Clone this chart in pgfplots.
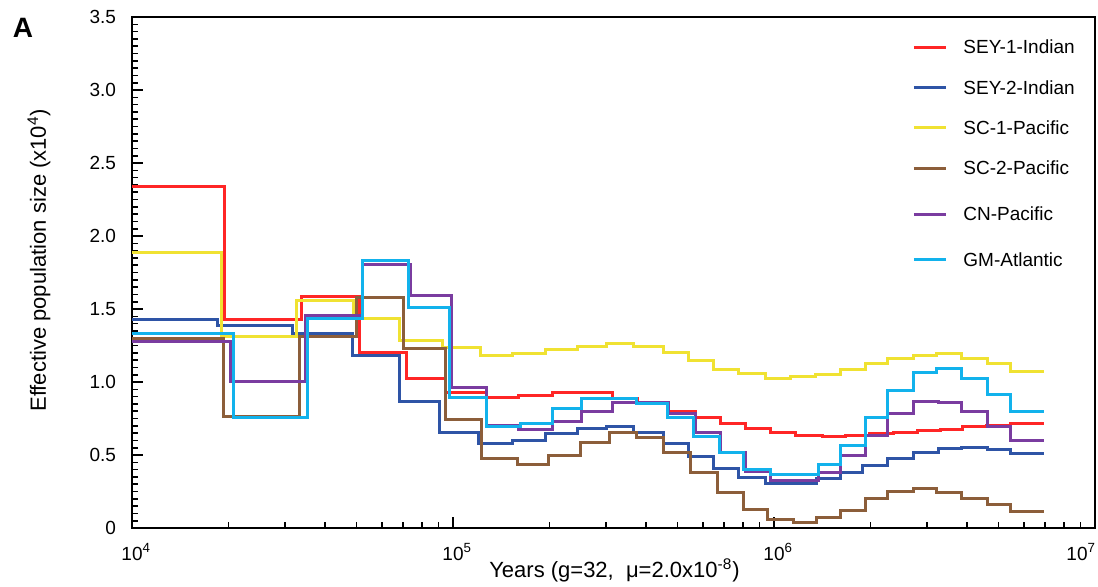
\documentclass[border=0pt]{standalone}
\usepackage{fontspec}
\setmainfont{Liberation Sans}
\usepackage{pgfplots}
\pgfplotsset{compat=1.18}
\definecolor{cRed}{RGB}{255,38,38}
\definecolor{cBlue}{RGB}{46,84,166}
\definecolor{cYellow}{RGB}{240,226,50}
\definecolor{cBrown}{RGB}{140,94,58}
\definecolor{cPurple}{RGB}{122,60,160}
\definecolor{cCyan}{RGB}{18,178,236}
\newcommand{\fs}{\fontsize{9.5}{11.4}\selectfont}
\newcommand{\fl}{\fontsize{11}{13}\selectfont}
\pgfplotsset{
  mylegend/.style={
    legend style={draw=none, fill=none, font=\fs, anchor=north west,
      inner sep=0pt, column sep=8pt, nodes={inner sep=0pt}, cells={anchor=base west}},
    legend image code/.code={\path (0pt,0pt); \draw[##1] (0pt,3.3pt) -- (16pt,3.3pt);},
  },
  myline/.style={const plot, line width=1.5pt, line join=miter},
}
\begin{document}
\begin{tikzpicture}
\begin{axis}[
  scale only axis, width=481.5pt, height=255.5pt,
  at={(0,0)}, anchor=south west,
  xmode=log, xmin=1e4, xmax=1e7, ymin=0, ymax=3.5,
  clip=false,
  axis line style={line width=0.9pt},
  tick pos=left, tick align=inside,
  major tick length=5.5pt, minor tick length=3pt,
  every tick/.style={black, line width=0.8pt},
  xtick={1e4,1e5,1e6,1e7},
  xticklabels={10\rlap{\textsuperscript{4}},10\rlap{\textsuperscript{5}},10\rlap{\textsuperscript{6}},{}},
  minor xtick={2e4,3e4,4e4,5e4,6e4,7e4,8e4,9e4,2e5,3e5,4e5,5e5,6e5,7e5,8e5,9e5,2e6,3e6,4e6,5e6,6e6,7e6,8e6,9e6},
  ytick={0,0.5,1,1.5,2,2.5,3,3.5},
  yticklabels={0,0.5,1.0,1.5,2.0,2.5,3.0,3.5},
  minor y tick num=9,
  xticklabel style={font=\fs, anchor=base, yshift=-16pt},
  yticklabel style={font=\fs, anchor=east, xshift=-4.5pt},
  xlabel={Years (g=32,\ \ μ=2.0x10\textsuperscript{-8})},
  xlabel style={font=\fl, at={(axis description cs:0.501,0)}, anchor=base, yshift=-24.5pt},
  ylabel={Effective population size (x10\textsuperscript{4})},
  ylabel style={font=\fl, at={(axis description cs:-0.0966,0.524)}, anchor=center},
  mylegend,
  legend style={at={(rel axis cs:0.8100,0.9554)}, row sep=11.75pt},
]
\addplot[myline, cRed] coordinates {(1e4,2.342) (19350,1.43) (33610,1.585) (50950,1.205) (71890,1.025) (94430,0.925) (127600,0.895) (159400,0.905) (203500,0.925) (312900,0.885) (377000,0.85) (467500,0.795) (567500,0.76) (678900,0.715) (812200,0.685) (971700,0.655) (1.163e6,0.632) (1.411e6,0.627) (1.664e6,0.637) (1.991e6,0.647) (2.348e6,0.657) (2.789e6,0.67) (3.290e6,0.677) (3.879e6,0.695) (4.576e6,0.705) (5.435e6,0.715) (6.936e6,0.715)};
\addlegendentry{SEY-1-Indian}
\addplot[myline, cBlue] coordinates {(1e4,1.425) (18530,1.385) (31730,1.335) (48460,1.185) (67880,0.865) (90450,0.655) (119700,0.582) (152700,0.597) (193500,0.647) (243400,0.685) (299700,0.695) (363800,0.657) (451000,0.582) (539700,0.488) (645600,0.408) (778000,0.345) (937500,0.308) (1.361e6,0.338) (1.606e6,0.377) (1.893e6,0.428) (2.265e6,0.477) (2.711e6,0.517) (3.243e6,0.547) (3.851e6,0.552) (4.609e6,0.537) (5.435e6,0.513) (6.936e6,0.513)};
\addlegendentry{SEY-2-Indian}
\addplot[myline, cYellow] coordinates {(1e4,1.884) (18940,1.315) (32430,1.56) (48810,1.435) (67880,1.285) (92420,1.235) (121400,1.185) (152700,1.195) (193500,1.225) (243400,1.245) (299700,1.265) (363800,1.245) (451000,1.205) (539700,1.145) (645600,1.085) (778000,1.055) (937500,1.025) (1.122e6,1.035) (1.342e6,1.05) (1.606e6,1.085) (1.921e6,1.125) (2.265e6,1.16) (2.711e6,1.185) (3.219e6,1.195) (3.851e6,1.16) (4.609e6,1.125) (5.435e6,1.075) (6.936e6,1.075)};
\addlegendentry{SC-1-Pacific}
\addplot[myline, cBrown] coordinates {(1e4,1.295) (19210,0.765) (33130,1.315) (49870,1.58) (70360,1.23) (94430,0.74) (123100,0.475) (158300,0.432) (199100,0.497) (248700,0.587) (306200,0.652) (371700,0.617) (451000,0.517) (547500,0.383) (664400,0.24) (800700,0.13) (951000,0.06) (1.146e6,0.035) (1.361e6,0.07) (1.606e6,0.123) (1.921e6,0.205) (2.265e6,0.253) (2.711e6,0.273) (3.219e6,0.243) (3.851e6,0.2) (4.609e6,0.158) (5.435e6,0.11) (6.936e6,0.11)};
\addplot[myline, cPurple] coordinates {(1e4,1.275) (20200,1.005) (34590,1.455) (52430,1.808) (73460,1.595) (98580,0.96) (127600,0.70) (159400,0.672) (203500,0.727) (252200,0.797) (312900,0.857) (467500,0.782) (567500,0.652) (678900,0.517) (812200,0.388) (971700,0.328) (1.371e6,0.378) (1.606e6,0.497) (1.921e6,0.637) (2.265e6,0.787) (2.711e6,0.865) (3.243e6,0.857) (3.851e6,0.797) (4.609e6,0.697) (5.435e6,0.597) (6.936e6,0.597)};
\addplot[myline, cCyan] coordinates {(1e4,1.335) (20780,0.755) (35090,1.435) (52060,1.829) (72930,1.51) (97170,0.895) (127600,0.697) (161700,0.717) (203500,0.82) (252200,0.89) (371700,0.85) (464200,0.757) (559400,0.627) (674000,0.517) (800700,0.398) (971700,0.368) (1.371e6,0.437) (1.606e6,0.562) (1.921e6,0.757) (2.265e6,0.945) (2.711e6,1.065) (3.219e6,1.09) (3.851e6,1.025) (4.609e6,0.915) (5.435e6,0.797) (6.936e6,0.797)};
\end{axis}
\begin{axis}[
  scale only axis, width=481.5pt, height=255.5pt,
  at={(0,0)}, anchor=south west,
  xmode=log, xmin=1e4, xmax=1e7, ymin=0, ymax=3.5,
  hide axis,
  mylegend,
  legend style={at={(rel axis cs:0.8100,0.7186)}, row sep=14.5pt},
]
\addlegendimage{myline, cBrown}
\addlegendentry{SC-2-Pacific}
\addlegendimage{myline, cPurple}
\addlegendentry{CN-Pacific}
\addlegendimage{myline, cCyan}
\addlegendentry{GM-Atlantic}
\end{axis}
\node[font=\fs, anchor=base] at (472.5pt,-16pt) {10\rlap{\textsuperscript{7}}};
\node[font=\bfseries\fontsize{14}{14}\selectfont] at (-54.5pt,250pt) {A};
\pgfresetboundingbox
\path[use as bounding box] (-66pt,-29pt) rectangle (483pt,264pt);
\end{tikzpicture}
\end{document}
